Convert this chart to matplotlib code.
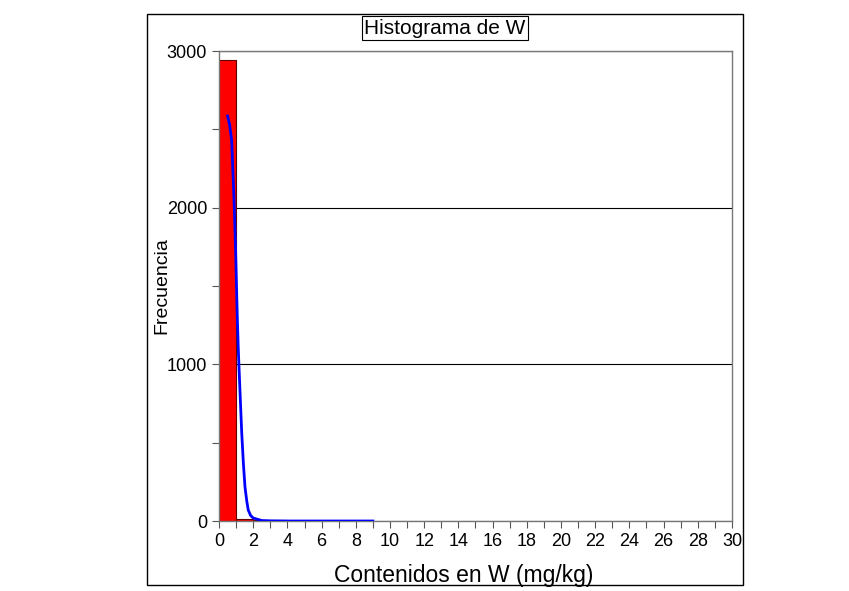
import matplotlib.pyplot as plt
from matplotlib.patches import Rectangle
from matplotlib.ticker import MultipleLocator

plt.rcParams['font.family'] = ['Liberation Sans', 'DejaVu Sans']

# histogram bins (width 1 mg/kg) and counts
bin_left = [0, 1, 2, 3]
bin_count = [2945, 10, 7, 6]

# fitted curve
curve_x = [0.5, 0.62, 0.74, 0.88, 0.97, 1.07, 1.13, 1.23, 1.33, 1.43, 1.52, 1.62, 1.71, 1.85, 2.0, 2.5, 3, 4, 5, 6, 7, 8, 9]
curve_y = [2585, 2530, 2430, 2050, 1730, 1300, 1090, 820, 560, 360, 217, 130, 70, 35, 19, 3, 1, 0, 0, 0, 0, 0, 0]

fig = plt.figure(figsize=(8.49, 5.91), dpi=100)
ax = fig.add_axes([219 / 849, 1 - 521 / 591, 513 / 849, 470 / 591])

ax.bar(bin_left, bin_count, width=1, align='edge', color='red', edgecolor='#600000', linewidth=0.8, zorder=2)
ax.plot(curve_x, curve_y, color='blue', linewidth=2, zorder=3)

ax.set_xlim(0, 30)
ax.set_ylim(0, 3000)
ax.xaxis.set_major_locator(MultipleLocator(2))
ax.xaxis.set_minor_locator(MultipleLocator(1))
ax.yaxis.set_major_locator(MultipleLocator(1000))
ax.yaxis.set_minor_locator(MultipleLocator(500))
ax.tick_params(which='both', direction='out', length=5, width=0.8, colors='#555555', labelcolor='black', labelsize=13)
ax.yaxis.grid(True, which='major', color='black', linewidth=0.8, zorder=1)
for s in ax.spines.values():
    s.set_color('#777777')
    s.set_linewidth(1)

ax.set_xlabel('Contenidos en W (mg/kg)', fontsize=16.5)
ax.xaxis.set_label_coords(0.4776, -0.092)
ax.set_ylabel('Frecuencia', fontsize=14)
ax.yaxis.set_label_coords(-0.095, 0.5)

fig.text(445 / 849, 1 - 28 / 591, 'Histograma de W', fontsize=15, ha='center', va='center',
         bbox=dict(boxstyle='square,pad=0.1', facecolor='white', edgecolor='black', linewidth=0.8))

# outer frame around the chart
fig.patches.append(Rectangle((147 / 849, 1 - 585 / 591), (743 - 147) / 849, (585 - 14) / 591,
                             transform=fig.transFigure, fill=False, edgecolor='black', linewidth=1))

fig.savefig('out.png', dpi=100)
